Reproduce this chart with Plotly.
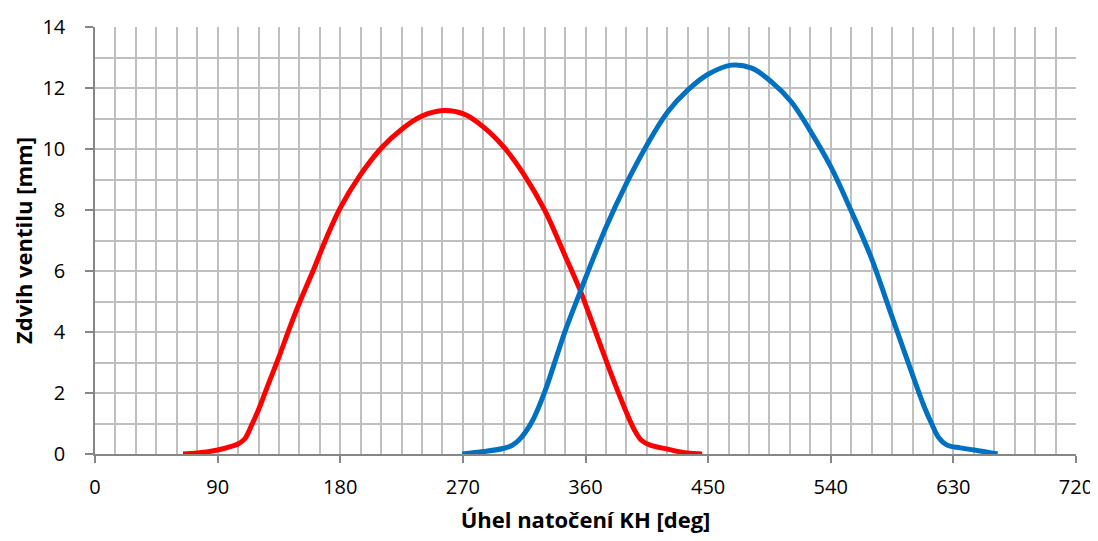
import plotly.graph_objects as go

# Intake valve (red) - crank angle [deg] and lift [mm]
red_angle = [64.6, 75, 90, 100, 105, 110, 115, 120, 128, 135, 142.8, 150, 160, 170, 180, 194,
             209.5, 226, 240, 256, 270.5, 285.4, 300.3, 315.3, 330.2, 345, 356.3,
             367, 378, 389.8, 396, 401, 407, 420, 434.6, 445.6]
red_lift = [0.0, 0.03, 0.13, 0.25, 0.33, 0.5, 0.95, 1.45, 2.38, 3.18, 4.13, 4.95, 6.0, 7.1, 8.07, 9.1,
            10.0, 10.68, 11.08, 11.26, 11.15, 10.71, 10.05, 9.13, 7.98, 6.5, 5.34,
            4.05, 2.72, 1.39, 0.78, 0.45, 0.3, 0.16, 0.03, 0.0]

# Exhaust valve (blue)
blue_angle = [269.5, 285.4, 300.3, 306, 311, 316, 322, 330.2, 339.2, 345, 356.3, 360,
              374.9, 389.8, 404.7, 420, 435, 450, 467, 482, 496.5, 511, 525.3, 540,
              554.7, 569.4, 584.1, 598.8, 608.6, 614, 619, 625, 635, 645.4, 662.5]
blue_lift = [0.0, 0.08, 0.19, 0.28, 0.45, 0.72, 1.17, 2.05, 3.25, 4.02, 5.34, 5.77,
             7.42, 8.85, 10.1, 11.2, 11.93, 12.45, 12.75, 12.65, 12.2, 11.55, 10.57, 9.42,
             8.0, 6.47, 4.61, 2.75, 1.55, 1.0, 0.55, 0.3, 0.2, 0.13, 0.0]

x_ticks = [0, 90, 180, 270, 360, 450, 540, 630, 720]
y_ticks = [0, 2, 4, 6, 8, 10, 12, 14]

FONT = "Open Sans, sans-serif"

fig = go.Figure()
fig.add_trace(go.Scatter(x=red_angle, y=red_lift, mode="lines",
                         line=dict(color="#FF0000", width=5, shape="spline", smoothing=1.0),
                         showlegend=False, hoverinfo="skip"))
fig.add_trace(go.Scatter(x=blue_angle, y=blue_lift, mode="lines",
                         line=dict(color="#0070C0", width=5, shape="spline", smoothing=1.0),
                         showlegend=False, hoverinfo="skip"))

fig.update_layout(
    width=1090, height=533,
    margin=dict(l=87, r=22, t=19, b=87, autoexpand=False),
    paper_bgcolor="white", plot_bgcolor="white",
    font=dict(family=FONT, size=20, color="black"),
    xaxis=dict(
        range=[0, 720], tickmode="array", tickvals=x_ticks, ticktext=[str(v) for v in x_ticks],
        showgrid=True, gridcolor="#BFBFBF", gridwidth=1.5,
        minor=dict(dtick=15, tick0=0, showgrid=True, gridcolor="#BFBFBF", gridwidth=1.5, ticks=""),
        showline=True, linecolor="#868686", linewidth=1.5,
        ticks="outside", ticklen=7, tickcolor="#868686", tickwidth=1.5,
        ticklabelstandoff=7, ticklabeloverflow="allow",
        zeroline=False, automargin=False,
        title=dict(text="<b>Úhel natočení KH [deg]</b>", font=dict(size=22), standoff=14),
    ),
    yaxis=dict(
        range=[0, 14], tickmode="array", tickvals=y_ticks, ticktext=[str(v) for v in y_ticks],
        showgrid=True, gridcolor="#BFBFBF", gridwidth=1.5,
        minor=dict(dtick=1, tick0=0, showgrid=True, gridcolor="#BFBFBF", gridwidth=1.5, ticks=""),
        showline=True, linecolor="#868686", linewidth=1.5,
        ticks="outside", ticklen=8, tickcolor="#868686", tickwidth=1.5,
        ticklabelstandoff=16,
        zeroline=False, automargin=False,
        title=dict(text="<b>Zdvih ventilu [mm]</b>", font=dict(size=22), standoff=18),
    ),
)

fig.write_html("out.html")
